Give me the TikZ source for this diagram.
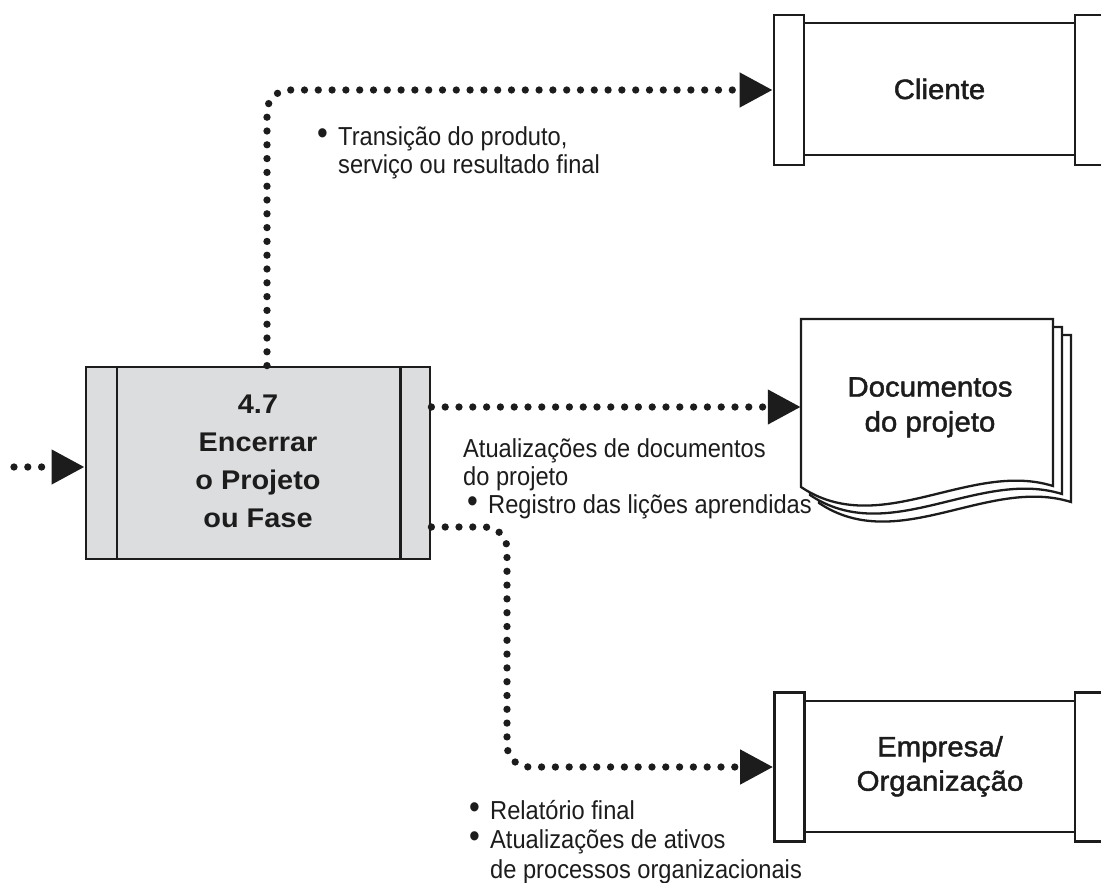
\documentclass[tikz,border=0pt]{standalone}
\usepackage{fontspec}
\setmainfont{Liberation Sans}
\newfontfamily\lblfont[FakeStretch=0.91]{Liberation Sans}
\newfontfamily\boxfont[FakeStretch=1.05,FakeBold=1.6]{Liberation Sans}
\newfontfamily\procfont[FakeStretch=1.07]{Liberation Sans}
\usetikzlibrary{arrows.meta}
\definecolor{procgray}{RGB}{220,221,223}
\definecolor{ink}{RGB}{28,28,28}
\newcommand\mybul{\makebox[21pt][l]{\raisebox{0.8pt}{\scalebox{1.3}{\textbullet}}}}
\tikzset{
  flow/.style={ink, line width=7.3pt, line cap=round, dash pattern=on 0pt off 13.8pt,
    rounded corners=22pt, -{Triangle[length=33pt,width=33pt]}},
  procbox/.style={draw=ink, line width=2.8pt, fill=procgray, minimum width=344pt,
    minimum height=192pt, inner sep=0pt, align=center, text=ink,
    font=\procfont\bfseries\fontsize{27}{37.7}\selectfont},
  bar/.style={draw=ink, line width=2.6pt, fill=white, inner sep=0pt, align=center, text=ink,
    font=\boxfont\fontsize{28}{35}\selectfont},
  endcap/.style={draw=ink, line width=2.6pt, fill=white, inner sep=0pt, minimum width=30pt},
  page/.style={draw=ink, line width=2.3pt, fill=white},
  lbl/.style={inner sep=0pt, align=left, text=ink, font=\lblfont\fontsize{26}{28}\selectfont}
}
\begin{document}
\begin{tikzpicture}[x=1pt,y=-1pt]
\useasboundingbox (0,0) rectangle (1101,883);

% process box
\node[procbox] (proc) at (258,463) {\raisebox{-3pt}{\begin{tabular}{c}4.7\\[0.4pt]Encerrar\\[0.4pt]o Projeto\\[0.4pt]ou Fase\end{tabular}}};
\draw[ink, line width=2pt] ([xshift=32pt]proc.north west) -- ([xshift=32pt]proc.south west);
\draw[ink, line width=2.8pt] ([xshift=-31pt]proc.north east) -- ([xshift=-31pt]proc.south east);

% Cliente
\node[bar, minimum width=271pt, minimum height=132pt] (cli) at (939.5,89) {\raisebox{-10pt}{Cliente}};
\node[endcap, minimum height=150pt] (cliL) at (789,90) {};
\node[endcap, minimum height=150pt] (cliR) at (1090,90) {};

% Empresa
\node[bar, minimum width=270pt, minimum height=131pt] (emp) at (940,766.5) {\raisebox{-8pt}{\begin{tabular}{c}Empresa/\\[-0.6pt]Organização\end{tabular}}};
\node[endcap, minimum height=149pt] (empL) at (789.5,767) {};
\node[endcap, minimum height=149pt] (empR) at (1090,767) {};

% Documentos
\foreach \dx/\dy in {18/16, 9/8, 0/0}{
  \draw[page, shift={(\dx,\dy)}] (801,319) -- (1053,319) -- (1053,486)
    .. controls (970,460) and (880,540) .. (801,487) -- cycle;
}
\node[inner sep=0pt, minimum width=252pt, minimum height=176pt, align=center, text=ink,
  font=\boxfont\fontsize{28}{35}\selectfont] (docs) at (927,407) {\raisebox{-7pt}{\begin{tabular}{c}\hspace*{6pt}Documentos\\\hspace*{6pt}do projeto\end{tabular}}};

% connectors
\coordinate (src) at (14,467);
\draw[flow] (src) -- (proc.west |- src);
\draw[flow] ([xshift=9pt]proc.north) |- (cliL.west);
\draw[flow] (proc.east |- docs.west) -- (docs.west);
\coordinate (bend) at (507,767);
\draw[flow] ([yshift=-64pt]proc.east) -| (bend) -- (empL.west);

% labels
\node[lbl, anchor=base west] (lab1) at (317,173)
  {\mybul Transição do produto,\\\hspace*{21pt}serviço ou resultado final};
\node[lbl, anchor=base west] (lab2) at (463,513)
  {Atualizações de documentos\\do projeto\\\hspace*{4pt}\mybul Registro das lições aprendidas};
\node[lbl, anchor=base west, font=\lblfont\fontsize{26}{29.5}\selectfont] (lab3) at (469,878)
  {\mybul Relatório final\\\mybul Atualizações de ativos\\\hspace*{21pt}de processos organizacionais};
\end{tikzpicture}
\end{document}
